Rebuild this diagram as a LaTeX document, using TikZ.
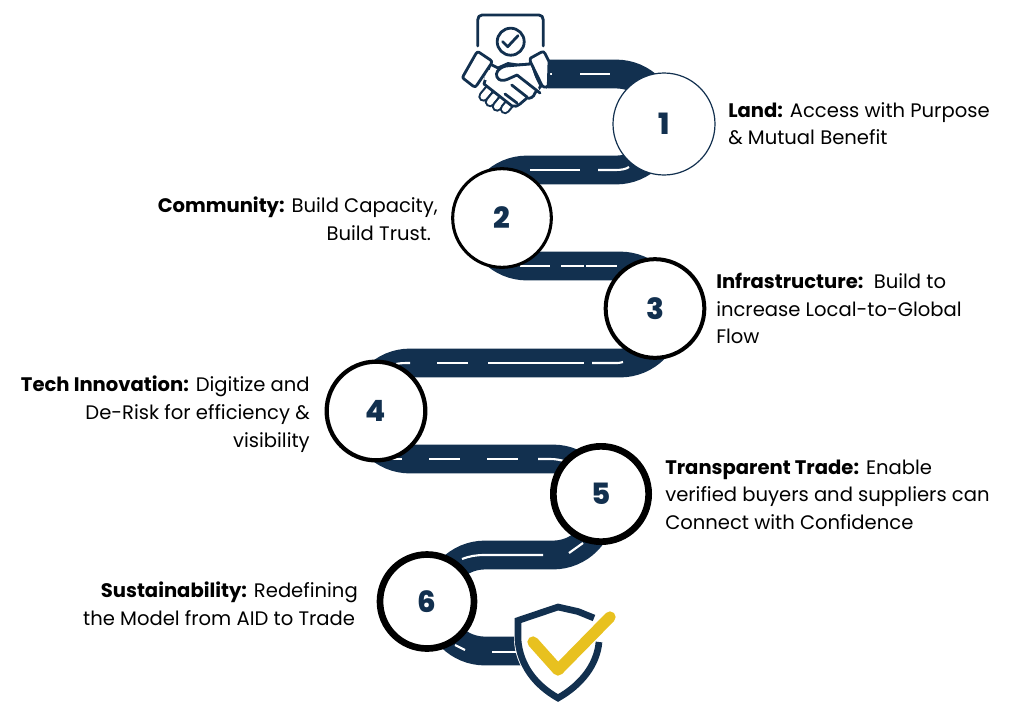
\documentclass[tikz,border=0pt]{standalone}
\usepackage{fontspec}
\setmainfont{Poppins}
\newfontfamily\numfont{Poppins ExtraBold}
\definecolor{navy}{HTML}{12304F}
\definecolor{gold}{HTML}{E8C11F}
\tikzset{
  road/.style={navy,line width=21.6pt},
  lane/.style={white,line width=1.6pt},
  stepcircle/.style={circle,draw=black,fill=white,minimum size=74pt,inner sep=0pt,font=\fontsize{22}{22}\selectfont\numfont,text=navy},
  label/.style={font=\fontsize{14.68}{20.7}\selectfont,text=black,inner sep=0pt},
  icon/.style={navy,line width=2.1pt,line cap=round,line join=round},
}
\begin{document}
\begin{tikzpicture}[x=0.75pt,y=-0.75pt]
\useasboundingbox (0,0) rectangle (1024,726);
% road
\draw[road] (548,74) -- (616,74) .. controls (642.5,74) and (664,95.5) .. (664,122) .. controls (664,148.5) and (642.5,170) .. (616,170)
  -- (527,170) .. controls (500.5,170) and (479,191.5) .. (479,218) .. controls (479,244.5) and (500.5,266) .. (527,266)
  -- (620,266) .. controls (646.8,266) and (668.5,287.7) .. (668.5,314.5) .. controls (668.5,341.3) and (646.8,363) .. (620,363)
  -- (410,363) .. controls (383.5,363) and (362,384.5) .. (362,411) .. controls (362,437.5) and (383.5,459) .. (410,459)
  -- (553,459) .. controls (579.5,459) and (601,480.5) .. (601,507) .. controls (601,533.5) and (579.5,555) .. (553,555)
  -- (485,555) .. controls (458.5,555) and (437,576.5) .. (437,603) .. controls (437,629.5) and (458.5,651) .. (485,651)
  -- (530,651);
% lane markings
\foreach \a/\b/\c in {548/74/552,580/74/610,530/170/580,520/266/550,561/266/584,586/266/617,437/363/468,488/363/527,527/363/584,429/459/460,487/459/518,492/652/517,392/459/402}
  \draw[lane] (\a,\b) -- (\c,\b);
\draw[lane] (598,170) -- (615,170) .. controls (622,170) and (626,169) .. (629,167);
\draw[lane] (592,363) -- (614,363) .. controls (618,363) and (621,363) .. (623,362);
\draw[lane] (396,364) .. controls (400,363) and (405,363) .. (410,363);
\draw[lane] (538,459) -- (550,459) .. controls (556,459) and (560,460) .. (564,461);
\draw[lane] (462,559) .. controls (470,556) and (476,555) .. (485,555) -- (543,555);
\draw[lane] (569,553) -- (583,543);
\draw[lane] (455,645) -- (465,650);
% circles
\node[stepcircle,draw=navy,line width=0.9pt,minimum size=76.5pt] (c1) at (664,124) {1};
\node[stepcircle,line width=2.3pt] (c2) at (502,218) {2};
\node[stepcircle,line width=3pt] (c3) at (655,308.5) {3};
\node[stepcircle,line width=3.2pt] (c4) at (376,411) {4};
\node[stepcircle,line width=5pt,minimum size=71.5pt] (c5) at (601,494) {5};
\node[stepcircle,line width=5pt,minimum size=70.5pt] (c6) at (427,601.5) {6};
% labels
\node[label,anchor=north west,align=left] (t1) at (728,102) {\textbf{Land:} Access with Purpose\\\& Mutual Benefit};
\node[label,anchor=north east,align=right] (t2) at (438,197) {\textbf{Community:} Build Capacity,\\Build Trust.\hspace*{5pt}};
\node[label,anchor=north west,align=left] (t3) at (716,273) {\textbf{Infrastructure:}\ \ Build to\\increase Local-to-Global\\Flow};
\node[label,anchor=north east,align=right] (t4) at (310,376) {\textbf{Tech Innovation:} Digitize and\\De-Risk for efficiency \&\\visibility};
\node[label,anchor=north west,align=left] (t5) at (665,459.5) {\textbf{Transparent Trade:} Enable\\verified buyers and suppliers can\\Connect with Confidence};
\node[label,anchor=north east,align=right] (t6) at (358,582) {\textbf{Sustainability:} Redefining\\the Model from AID to Trade\hspace*{2pt}};
% handshake icon
\draw[icon] (477.7,46) -- (477.7,20) .. controls (477.7,17) and (479.5,15) .. (482,15) -- (539,15) .. controls (541.5,15) and (543.3,17) .. (543.3,20) -- (543.3,46);
\draw[icon] (510.7,41.7) circle[radius=13.5];
\draw[icon] (502.7,41.7) -- (507.7,46.7) -- (518,35.7);
% fingers
\foreach \p/\q in {483.5/96.5,490/102,497/106.5,505/109}{
  \draw[navy,line width=7.8pt,line cap=round] (\p,\q) -- ({\p+5},{\q-6});
  \draw[white,line width=4.6pt,line cap=round] (\p,\q) -- ({\p+5},{\q-6});
}
% palm
\draw[icon,fill=white] (490,64) -- (484,84) -- (512,106) .. controls (515,107) and (518,106) .. (520,104) -- (527,98) .. controls (530,99) and (534,97) .. (535,93) -- (541,86) -- (530,64) -- (518,65) -- (508,63.5) -- (498,68) -- cycle;
\draw[white,line width=3pt] (489,70) -- (486,80);
\draw[icon,fill=white] (530.5,64) -- (518,65) -- (506,66) .. controls (498,68) and (495,73) .. (497,77) .. controls (499,81) and (503,81) .. (507,79.5) -- (517,75) -- (540,93);
\draw[icon] (511.7,85) -- (527,97);
\draw[icon] (505,94) -- (517,103);
% cuffs
\draw[icon,fill=white] (479,52.3) -- (490.5,60) .. controls (492,61) and (492,62) .. (491,64) -- (477,85) .. controls (476,87) and (475,87) .. (473,86) -- (464,79) .. controls (462.5,78) and (462.5,77) .. (463.5,75.5) -- (476,53.5) .. controls (477,52) and (478,52) .. (479,52.3) -- cycle;
\draw[icon,fill=white] (530.7,58) -- (541,52.3) .. controls (543,51) and (544,52) .. (545,53.5) -- (549,61.5) -- (548.3,85) .. controls (548,87) and (546,88) .. (544,87) -- (542,85.5) -- (530.5,62) .. controls (530,60) and (530,59) .. (530.7,58) -- cycle;
% shield icon
\fill[white] (514,618) -- (558,605) -- (602,618) -- (602,640) .. controls (601,665) and (585,688) .. (558,702) .. controls (531,688) and (515,665) .. (514,640) -- cycle;
\draw[navy,line width=5pt,line join=miter] (594,618) -- (578,611.5) -- (558,607) -- (518,620.5) -- (518,640) .. controls (520,665) and (535,685) .. (558,698) .. controls (581,685) and (597,665) .. (599,642);
\draw[gold,line width=8.5pt,line cap=round,line join=round] (533,642) -- (558,670) -- (610,617);
\end{tikzpicture}
\end{document}
